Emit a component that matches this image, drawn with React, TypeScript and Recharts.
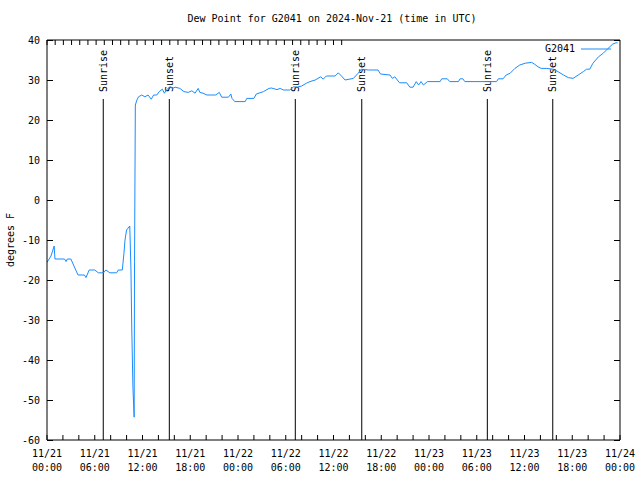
import { Legend, Line, LineChart, ReferenceLine, XAxis, YAxis } from 'recharts'

// hours since 2024-11-21 00:00 UTC
const hours = [
  0.0, 0.5, 0.9, 1.0, 2.2, 2.4, 2.55, 3.0, 3.5, 3.9, 4.7, 4.9, 5.3, 6.0, 6.45, 7.1, 7.4, 7.9, 8.75, 8.96,
  9.46, 9.67, 9.8, 10.0, 10.4, 10.55, 10.65, 10.8, 10.95, 11.0, 11.1, 11.3, 11.5, 11.9, 12.3, 12.7, 13.1,
  13.4, 13.8, 14.1, 14.5, 14.75, 15.0, 15.45, 15.8, 16.1, 16.7, 17.2, 17.75, 18.2, 18.6, 19.0, 19.2, 19.6,
  20.1, 21.2, 21.65, 21.95, 22.8, 23.1, 23.25, 23.6, 24.9, 25.1, 26.0, 26.3, 27.2, 27.9, 28.2, 28.9, 29.3,
  29.7, 30.5, 31.0, 31.4, 32.0, 32.6, 33.05, 33.7, 34.4, 34.7, 35.1, 36.2, 36.6, 37.0, 37.45, 38.5, 39.1,
  39.5, 40.4, 41.6, 41.9, 43.1, 43.4, 43.7, 44.3, 45.2, 45.6, 46.0, 46.4, 46.7, 47.0, 47.3, 47.8, 49.4,
  49.6, 50.3, 50.6, 51.7, 51.9, 52.25, 52.5, 56.5, 56.7, 57.3, 57.7, 58.2, 58.8, 59.4, 60.1, 60.9, 61.3,
  61.7, 62.1, 62.8, 63.6, 64.2, 64.9, 65.5, 66.1, 66.75, 67.4, 67.8, 68.2, 68.6, 69.3, 69.9, 70.5, 71.1,
  71.5, 71.7,
]

const dewPoint = [
  -15.6, -14.0, -11.5, -14.75, -14.75, -15.4, -14.75, -14.75, -17.0, -18.75, -18.75, -19.4, -17.5, -17.5,
  -18.2, -18.2, -17.5, -18.2, -18.2, -17.5, -17.5, -13.3, -10.0, -7.5, -6.5, -17.5, -32.0, -47.0, -54.3,
  -15.4, 23.75, 25.0, 25.8, 26.25, 25.8, 26.25, 25.2, 26.25, 26.25, 27.1, 27.7, 26.7, 27.5, 28.3, 27.9,
  28.2, 27.9, 27.1, 26.9, 27.3, 26.7, 27.9, 26.9, 26.7, 26.25, 26.25, 26.9, 25.7, 25.7, 26.5, 25.4, 24.6,
  24.6, 25.4, 25.4, 26.5, 27.1, 27.9, 28.0, 27.6, 27.9, 27.5, 27.5, 28.3, 28.2, 28.5, 29.2, 29.6, 30.0,
  30.8, 30.2, 31.0, 31.0, 31.8, 31.0, 30.0, 30.4, 31.7, 32.7, 32.5, 32.5, 31.5, 31.25, 30.4, 30.8, 29.3,
  29.3, 28.2, 28.2, 29.6, 28.75, 29.6, 28.75, 29.6, 29.6, 30.3, 30.3, 29.6, 29.6, 30.3, 30.3, 29.6, 29.6,
  30.3, 30.3, 31.25, 31.7, 32.9, 33.75, 34.2, 34.4, 33.9, 33.3, 32.9, 32.9, 32.7, 32.1, 31.25, 30.6, 30.4,
  31.25, 32.1, 32.7, 32.7, 34.2, 35.8, 36.7, 37.9, 39.0, 39.3, 39.3,
]

const sunNames = ['Sunrise', 'Sunset', 'Sunrise', 'Sunset', 'Sunrise', 'Sunset']
const sunHours = [7.07, 15.37, 31.2, 39.55, 55.33, 63.55]
const SUN_LINE_TOP = 25.25

const labelTicks = [0, 6, 12, 18, 24, 30, 36, 42, 48, 54, 60, 66, 72]
const tickDates = ['11/21', '11/21', '11/21', '11/21', '11/22', '11/22', '11/22', '11/22', '11/23', '11/23', '11/23', '11/23', '11/24']
const tickTimes = ['00:00', '06:00', '12:00', '18:00', '00:00', '06:00', '12:00', '18:00', '00:00', '06:00', '12:00', '18:00', '00:00']
const minorTicks = [
  0, 2, 4, 6, 8, 10, 12, 14, 16, 18, 20, 22, 24, 26, 28, 30, 32, 34, 36, 38, 40, 42, 44, 46, 48, 50, 52, 54,
  56, 58, 60, 62, 64, 66, 68, 70, 72,
]
const yTicks = [-60, -50, -40, -30, -20, -10, 0, 10, 20, 30, 40]

const FONT = '"DejaVu Sans Mono", "Liberation Mono", monospace'
const LINE_COLOR = '#1a8cff'
const TICK_LEN = 6

const data = hours.map((h, i) => ({ hour: h, dew: dewPoint[i] }))

// two-line label every 6h; ticks in between stay unlabeled
function TimeTick({ x, y, payload }: any) {
  const i = labelTicks.indexOf(payload.value)
  if (i < 0) return <g />
  return (
    <text x={x} y={y} textAnchor="middle" fontFamily={FONT} fontSize={10} fill="#000">
      <tspan x={x} dy={12}>{tickDates[i]}</tspan>
      <tspan x={x} dy={14}>{tickTimes[i]}</tspan>
    </text>
  )
}

const NoLabel = () => <g />

// left axis: value label, plus an inward tick drawn as a thin filled rect
// (x is the text anchor, 7px left of the axis line)
function ValueTick({ x, y, payload }: any) {
  return (
    <g>
      <rect x={x + 7} y={y - 0.5} width={TICK_LEN} height={1} fill="#000" shapeRendering="crispEdges" />
      <text x={x} y={y} textAnchor="end" dominantBaseline="central" fontFamily={FONT} fontSize={10} fill="#000">
        {payload.value}
      </text>
    </g>
  )
}

// right axis: inward tick only (x sits on the axis line)
function RightTick({ x, y }: any) {
  return <rect x={x - TICK_LEN} y={y - 0.5} width={TICK_LEN} height={1} fill="#000" shapeRendering="crispEdges" />
}

function SunLabel({ viewBox, text }: any) {
  const x = viewBox.x
  const y = viewBox.y - 7
  return (
    <text
      x={x}
      y={y}
      transform={`rotate(-90 ${x} ${y})`}
      dominantBaseline="central"
      fontFamily={FONT}
      fontSize={10}
      fill="#000"
    >
      {text}
    </text>
  )
}

function YTitle({ viewBox }: any) {
  const x = viewBox.x + 10
  const y = viewBox.y + viewBox.height / 2
  return (
    <text x={x} y={y} transform={`rotate(-90 ${x} ${y})`} textAnchor="middle" dominantBaseline="central"
      fontFamily={FONT} fontSize={10} fill="#000">
      degrees F
    </text>
  )
}

function SeriesKey() {
  return (
    <div style={{ display: 'flex', alignItems: 'center', fontFamily: FONT, fontSize: 10, color: '#000' }}>
      <span>G2041</span>
      <svg width={36} height={6} style={{ marginLeft: 6 }}>
        <line x1={0} y1={3} x2={30} y2={3} stroke={LINE_COLOR} strokeWidth={1} />
      </svg>
    </div>
  )
}

export default function App() {
  return (
    <div style={{ position: 'absolute', left: 0, top: 0, width: 640, height: 480, background: '#fff' }}>
      <div
        style={{
          position: 'absolute', left: 0, top: 13, width: 664, textAlign: 'center',
          fontFamily: FONT, fontSize: 10, lineHeight: '12px', color: '#000',
        }}
      >
        Dew Point for G2041 on 2024-Nov-21 (time in UTC)
      </div>
      <LineChart width={640} height={480} data={data} margin={{ top: 39, right: 19, bottom: 0, left: 0 }}>
        <XAxis
          dataKey="hour"
          type="number"
          domain={[0, 72]}
          allowDataOverflow
          ticks={minorTicks}
          interval={0}
          tickSize={-5}
          tickMargin={10}
          tickLine={{ stroke: '#000' }}
          tick={<TimeTick />}
          height={40}
          axisLine={{ stroke: '#000' }}
        />
        <XAxis xAxisId="top" type="number" domain={[0, 72]} allowDataOverflow ticks={minorTicks} interval={0}
          orientation="top" height={1} tickSize={-5} tickMargin={0} tickLine={{ stroke: '#000' }} tick={NoLabel}
          axisLine={{ stroke: '#000' }} />
        <YAxis
          type="number"
          domain={[-60, 40]}
          allowDataOverflow
          ticks={yTicks}
          interval={0}
          width={47}
          tickLine={false}
          tickSize={0}
          tickMargin={7}
          tick={<ValueTick />}
          axisLine={{ stroke: '#000' }}
          label={(p: any) => <YTitle {...p} />}
        />
        <YAxis yAxisId="right" type="number" domain={[-60, 40]} allowDataOverflow ticks={yTicks} interval={0}
          orientation="right" width={1} tickLine={false} tickSize={0} tickMargin={0} tick={<RightTick />}
          axisLine={{ stroke: '#000' }} />
        {sunHours.map((h, i) => (
          <ReferenceLine
            key={i}
            segment={[{ x: h, y: SUN_LINE_TOP }, { x: h, y: -60 }]}
            stroke="#000"
            strokeWidth={1}
            label={(p: any) => <SunLabel {...p} text={sunNames[i]} />}
          />
        ))}
        <Line
          type="linear"
          dataKey="dew"
          name="G2041"
          stroke={LINE_COLOR}
          strokeWidth={1}
          dot={false}
          isAnimationActive={false}
        />
        <Legend
          verticalAlign="middle"
          align="center"
          content={<SeriesKey />}
          wrapperStyle={{ left: 545, top: 43, width: 80, height: 12 }}
        />
      </LineChart>
    </div>
  )
}
